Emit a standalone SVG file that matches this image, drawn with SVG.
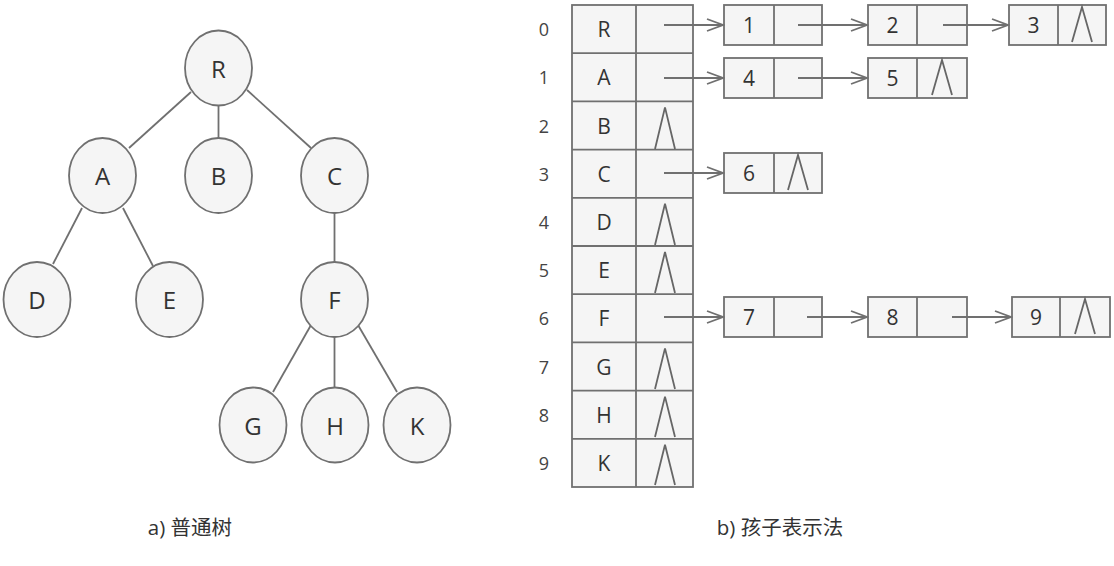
<svg xmlns="http://www.w3.org/2000/svg" width="1114" height="566" viewBox="0 0 1114 566">
<style>
.n{fill:#f5f5f5;stroke:#707070;stroke-width:1.8}
.e{stroke:#707070;stroke-width:1.8;fill:none}
.t{font-family:"Open Sans","Noto Sans",sans-serif;font-size:24px;fill:#333;text-anchor:middle;dominant-baseline:central}
.c{font-family:"Open Sans","Noto Sans",sans-serif;font-size:21px;fill:#333;text-anchor:middle;dominant-baseline:central}
.i{font-family:"Open Sans","Noto Sans",sans-serif;font-size:18px;fill:#444;text-anchor:middle;dominant-baseline:central}
.cap{font-family:"Open Sans","Noto Sans CJK SC",sans-serif;font-size:20.5px;fill:#333;text-anchor:middle;dominant-baseline:central}
.nul{stroke:#666;stroke-width:1.8;fill:none}
.a{stroke:#707070;stroke-width:1.8;fill:none;marker-end:url(#arr)}
</style>
<defs>
<marker id="arr" markerUnits="userSpaceOnUse" markerWidth="20" markerHeight="16" refX="18" refY="8" orient="auto">
<path d="M2,2 L18,8 L2,14" fill="none" stroke="#707070" stroke-width="1.8"/>
</marker>
</defs>
<g id="tree-edges">
<line class="e" x1="191" y1="92" x2="129" y2="148"/>
<line class="e" x1="218.5" y1="105" x2="218.5" y2="138"/>
<line class="e" x1="247" y1="90" x2="311" y2="148"/>
<line class="e" x1="82" y1="208" x2="53" y2="264"/>
<line class="e" x1="123" y1="208" x2="153" y2="266"/>
<line class="e" x1="334.5" y1="213" x2="334.5" y2="262"/>
<line class="e" x1="311" y1="325" x2="273" y2="392"/>
<line class="e" x1="334.5" y1="337" x2="334.5" y2="388"/>
<line class="e" x1="358" y1="325" x2="397" y2="392"/>
</g>
<g id="node-R"><ellipse class="n" cx="218.5" cy="68" rx="33.5" ry="37.5"/><text class="t" x="218.5" y="68">R</text></g>
<g id="node-A"><ellipse class="n" cx="102.5" cy="175.5" rx="33.5" ry="37.5"/><text class="t" x="102.5" y="175.5">A</text></g>
<g id="node-B"><ellipse class="n" cx="218.5" cy="175.5" rx="33.5" ry="37.5"/><text class="t" x="218.5" y="175.5">B</text></g>
<g id="node-C"><ellipse class="n" cx="334.5" cy="175.5" rx="33.5" ry="37.5"/><text class="t" x="334.5" y="175.5">C</text></g>
<g id="node-D"><ellipse class="n" cx="37" cy="299.5" rx="33.5" ry="37.5"/><text class="t" x="37" y="299.5">D</text></g>
<g id="node-E"><ellipse class="n" cx="169.5" cy="299.5" rx="33.5" ry="37.5"/><text class="t" x="169.5" y="299.5">E</text></g>
<g id="node-F"><ellipse class="n" cx="334.5" cy="299.5" rx="33.5" ry="37.5"/><text class="t" x="334.5" y="299.5">F</text></g>
<g id="node-G"><ellipse class="n" cx="253" cy="425" rx="33.5" ry="37.5"/><text class="t" x="253" y="425">G</text></g>
<g id="node-H"><ellipse class="n" cx="335" cy="425" rx="33.5" ry="37.5"/><text class="t" x="335" y="425">H</text></g>
<g id="node-K"><ellipse class="n" cx="417" cy="425" rx="33.5" ry="37.5"/><text class="t" x="417" y="425">K</text></g>

<g id="table">
<rect class="n" x="572" y="5" width="121" height="482"/>
<line class="e" x1="636" y1="5" x2="636" y2="487"/>
<line class="e" x1="572" y1="53.2" x2="693" y2="53.2"/>
<line class="e" x1="572" y1="101.4" x2="693" y2="101.4"/>
<line class="e" x1="572" y1="149.6" x2="693" y2="149.6"/>
<line class="e" x1="572" y1="197.8" x2="693" y2="197.8"/>
<line class="e" x1="572" y1="246" x2="693" y2="246"/>
<line class="e" x1="572" y1="294.2" x2="693" y2="294.2"/>
<line class="e" x1="572" y1="342.4" x2="693" y2="342.4"/>
<line class="e" x1="572" y1="390.6" x2="693" y2="390.6"/>
<line class="e" x1="572" y1="438.8" x2="693" y2="438.8"/>
<text class="c" x="604" y="29.1">R</text>
<text class="c" x="604" y="77.3">A</text>
<text class="c" x="604" y="125.5">B</text>
<text class="c" x="604" y="173.7">C</text>
<text class="c" x="604" y="221.9">D</text>
<text class="c" x="604" y="270.1">E</text>
<text class="c" x="604" y="318.3">F</text>
<text class="c" x="604" y="366.5">G</text>
<text class="c" x="604" y="414.7">H</text>
<text class="c" x="604" y="462.9">K</text>
<text class="i" x="544" y="29.1">0</text>
<text class="i" x="544" y="77.3">1</text>
<text class="i" x="544" y="125.5">2</text>
<text class="i" x="544" y="173.7">3</text>
<text class="i" x="544" y="221.9">4</text>
<text class="i" x="544" y="270.1">5</text>
<text class="i" x="544" y="318.3">6</text>
<text class="i" x="544" y="366.5">7</text>
<text class="i" x="544" y="414.7">8</text>
<text class="i" x="544" y="462.9">9</text>
<polyline class="nul" points="655,149 665,107.4 675,149"/>
<polyline class="nul" points="655,245 665,203.8 675,245"/>
<polyline class="nul" points="655,293 665,252 675,293"/>
<polyline class="nul" points="655,389 665,348.4 675,389"/>
<polyline class="nul" points="655,437 665,396.6 675,437"/>
<polyline class="nul" points="655,485 665,444.8 675,485"/>
</g>

<g id="list-1"><rect class="n" x="724" y="5" width="98" height="40"/><line class="e" x1="774" y1="5" x2="774" y2="45"/><text class="c" x="749" y="25">1</text></g>
<g id="list-2"><rect class="n" x="868" y="5" width="99" height="40"/><line class="e" x1="917" y1="5" x2="917" y2="45"/><text class="c" x="892.5" y="25">2</text></g>
<g id="list-3"><rect class="n" x="1009" y="5" width="97" height="40"/><line class="e" x1="1058" y1="5" x2="1058" y2="45"/><text class="c" x="1033.5" y="25">3</text><polyline class="nul" points="1072,42 1082,7 1092,42"/></g>
<g id="list-4"><rect class="n" x="724" y="58" width="98" height="40"/><line class="e" x1="774" y1="58" x2="774" y2="98"/><text class="c" x="749" y="78">4</text></g>
<g id="list-5"><rect class="n" x="868" y="58" width="99" height="40"/><line class="e" x1="917" y1="58" x2="917" y2="98"/><text class="c" x="892.5" y="78">5</text><polyline class="nul" points="932,95 942,60 952,95"/></g>
<g id="list-6"><rect class="n" x="724" y="153" width="98" height="40"/><line class="e" x1="774" y1="153" x2="774" y2="193"/><text class="c" x="749" y="173">6</text><polyline class="nul" points="788,190 798,155 808,190"/></g>
<g id="list-7"><rect class="n" x="724" y="297" width="98" height="40"/><line class="e" x1="774" y1="297" x2="774" y2="337"/><text class="c" x="749" y="317">7</text></g>
<g id="list-8"><rect class="n" x="868" y="297" width="99" height="40"/><line class="e" x1="917" y1="297" x2="917" y2="337"/><text class="c" x="892.5" y="317">8</text></g>
<g id="list-9"><rect class="n" x="1012" y="297" width="98" height="40"/><line class="e" x1="1060" y1="297" x2="1060" y2="337"/><text class="c" x="1036" y="317">9</text><polyline class="nul" points="1075,334 1085,299 1095,334"/></g>

<g id="connectors">
<line class="a" x1="664" y1="25" x2="723" y2="25"/>
<line class="a" x1="798" y1="25" x2="867" y2="25"/>
<line class="a" x1="943" y1="25" x2="1008" y2="25"/>
<line class="a" x1="664" y1="78" x2="723" y2="78"/>
<line class="a" x1="798" y1="78" x2="867" y2="78"/>
<line class="a" x1="664" y1="173" x2="723" y2="173"/>
<line class="a" x1="664" y1="317" x2="723" y2="317"/>
<line class="a" x1="807" y1="317" x2="867" y2="317"/>
<line class="a" x1="952" y1="317" x2="1011" y2="317"/>
</g>

<text class="cap" x="190" y="527">a) 普通树</text>
<text class="cap" x="780" y="527">b) 孩子表示法</text>
</svg>
